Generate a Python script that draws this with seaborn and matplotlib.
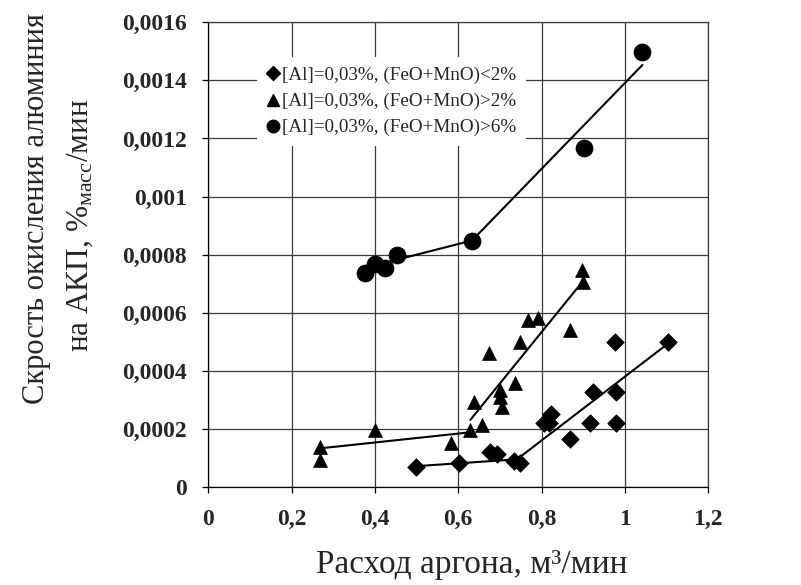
import numpy as np
import pandas as pd
import matplotlib
matplotlib.use("Agg")
import matplotlib.pyplot as plt
import seaborn as sns
from matplotlib.lines import Line2D
from matplotlib.ticker import FuncFormatter, MultipleLocator

# --- data ---
LABELS = ["[Al]=0,03%, (FeO+MnO)<2%",
          "[Al]=0,03%, (FeO+MnO)>2%",
          "[Al]=0,03%, (FeO+MnO)>6%"]

# series 1: diamonds, (FeO+MnO)<2%
diam_x = [0.499, 0.601, 0.675, 0.693, 0.733, 0.748, 0.805, 0.817, 0.823,
          0.868, 0.916, 0.924, 0.976, 0.978, 0.978, 1.104]
diam_y = [0.000069, 0.000083, 0.000122, 0.000115, 0.000092, 0.000083,
          0.000222, 0.000220, 0.000252, 0.000165, 0.000220, 0.000329,
          0.000501, 0.000329, 0.000220, 0.000501]

# series 2: triangles, (FeO+MnO)>2%
tri_x = [0.268, 0.268, 0.401, 0.583, 0.629, 0.637, 0.656, 0.673, 0.701,
         0.701, 0.704, 0.737, 0.748, 0.768, 0.791, 0.869, 0.898, 0.900]
tri_y = [0.000140, 0.000094, 0.000197, 0.000153, 0.000197, 0.000295,
         0.000214, 0.000461, 0.000335, 0.000312, 0.000277, 0.000358,
         0.000501, 0.000576, 0.000581, 0.000541, 0.000748, 0.000707]

# series 3: circles, (FeO+MnO)>6%
circ_x = [0.377, 0.401, 0.423, 0.453, 0.633, 0.903, 1.042]
circ_y = [0.000736, 0.000768, 0.000753, 0.000799, 0.000849, 0.001166, 0.001499]

# piecewise trend lines (break points)
diam_line_x = [0.505, 0.741, 1.104]
diam_line_y = [0.0000733, 0.0000963, 0.000495]
tri_line1_x = [0.268, 0.621]
tri_line1_y = [0.000134, 0.000188]
tri_line2_x = [0.629, 0.898]
tri_line2_y = [0.000232, 0.000707]
circ_line_x = [0.417, 0.633, 1.042]
circ_line_y = [0.000770, 0.000849, 0.001453]

df = pd.concat([
    pd.DataFrame({"x": diam_x, "y": diam_y, "group": LABELS[0]}),
    pd.DataFrame({"x": tri_x, "y": tri_y, "group": LABELS[1]}),
    pd.DataFrame({"x": circ_x, "y": circ_y, "group": LABELS[2]}),
])

sns.set_theme(style="white")
plt.rcParams["font.family"] = ["Liberation Serif", "DejaVu Serif"]
plt.rcParams["mathtext.fontset"] = "custom"
plt.rcParams["mathtext.rm"] = "Liberation Serif"
plt.rcParams["mathtext.it"] = "Liberation Serif:italic"

fig = plt.figure(figsize=(8.01, 5.85), dpi=100)
ax = fig.add_axes([0.2600, 0.167, 0.6242, 0.795])

markers = {LABELS[0]: "D", LABELS[1]: "^", LABELS[2]: "o"}
sizes = {LABELS[0]: 80, LABELS[1]: 100, LABELS[2]: 150}
for lab in LABELS:
    sub = df[df["group"] == lab]
    sns.scatterplot(data=sub, x="x", y="y", marker=markers[lab], s=sizes[lab],
                    color="black", edgecolor="black", linewidth=0.5,
                    ax=ax, legend=False, zorder=3)

for lx, ly in [(diam_line_x, diam_line_y), (tri_line1_x, tri_line1_y),
               (tri_line2_x, tri_line2_y), (circ_line_x, circ_line_y)]:
    ax.plot(lx, ly, color="black", lw=1.5, zorder=2)

ax.set_xlim(0, 1.2)
ax.set_ylim(0, 0.0016)
ax.xaxis.set_major_locator(MultipleLocator(0.2))
ax.yaxis.set_major_locator(MultipleLocator(0.0002))
fmt = FuncFormatter(lambda v, p: f"{round(v, 6):g}".replace(".", ","))
ax.xaxis.set_major_formatter(fmt)
ax.yaxis.set_major_formatter(fmt)

ax.grid(True, color="#3a3a3a", lw=0.9)
ax.set_axisbelow(True)
for s in ax.spines.values():
    s.set_color("#3a3a3a")
    s.set_linewidth(0.9)
ax.spines["left"].set_color("black")
ax.spines["bottom"].set_color("black")
ax.tick_params(axis="both", direction="out", length=4.5, width=0.9,
               color="black", labelsize=17)
ax.tick_params(axis="x", pad=11)
ax.tick_params(axis="y", pad=11)
ax.tick_params(left=True, bottom=True)
for t in ax.get_xticklabels() + ax.get_yticklabels():
    t.set_fontweight("bold")

ax.set_xlabel("Расход аргона, м³/мин", fontsize=24)
ax.xaxis.set_label_coords(0.526, -0.133)
ax.set_ylabel("")

# two-line y label, placed as in the reference
fig.text(37 / 801, 1 - 209 / 585, "Скрость окисления алюминия",
         rotation=90, ha="center", va="center", fontsize=22)
fig.text(80 / 801, 1 - 225 / 585, r"на АКП, %$_{\mathrm{масс}}$/мин",
         rotation=90, ha="center", va="center", fontsize=22.5)

handles = [Line2D([], [], marker=markers[l], color="black", ls="none",
                  markersize=ms) for l, ms in zip(LABELS, [7, 8, 9])]
leg = ax.legend(handles, LABELS, loc="upper left",
                bbox_to_anchor=(0.097, 0.925), frameon=True,
                facecolor="white", edgecolor="none", framealpha=1,
                fancybox=False, fontsize=13.8, handlelength=0.7,
                handletextpad=0.1, labelspacing=0.45, borderpad=0.5,
                borderaxespad=0)

fig.savefig("out.png", dpi=100)
